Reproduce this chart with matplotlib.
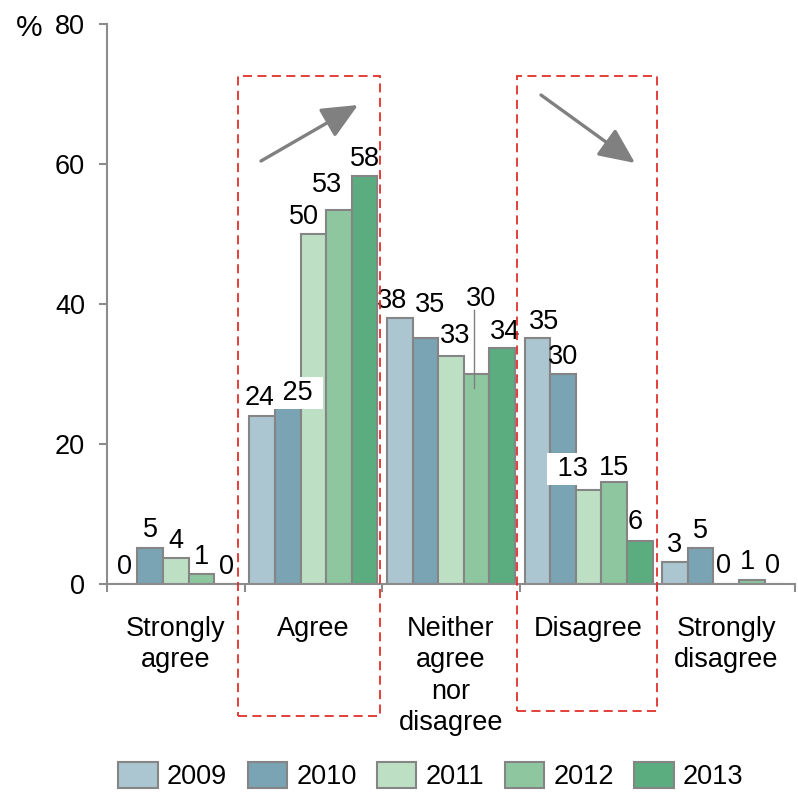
import matplotlib
matplotlib.use("Agg")
import matplotlib.pyplot as plt
from matplotlib.patches import Patch, Rectangle
import numpy as np

plt.rcParams['font.family'] = ['Liberation Sans', 'DejaVu Sans']

categories = ["Strongly\nagree", "Agree", "Neither\nagree\nnor\ndisagree", "Disagree", "Strongly\ndisagree"]
years = ["2009", "2010", "2011", "2012", "2013"]
values = {
    "2009": [0.0, 24.0, 38.0, 35.2, 3.1],
    "2010": [5.2, 25.1, 35.2, 30.0, 5.1],
    "2011": [3.7, 50.0, 32.6, 13.4, 0.0],
    "2012": [1.4, 53.4, 30.0, 14.6, 0.6],
    "2013": [0.0, 58.3, 33.7, 6.2, 0.0],
}
yticks = [0, 20, 40, 60, 80]

colors = ["#ABC6D0", "#7AA3B4", "#BDE0C5", "#8EC6A0", "#5BAD80"]
edge = "#858585"
FS = 19.5
PX = 0.72  # points per pixel at 100 dpi
HALF_DIGIT = 0.716 * FS / PX / 2  # half digit height in pixels

fig = plt.figure(figsize=(7.98, 8.0), dpi=100)
ax = fig.add_axes([107 / 798, 1 - 584 / 800, 688 / 798, 560 / 800])

x = np.arange(len(categories))
w = 0.186

# label nudges (pixels): (dx, height of label centre above bar top)
nudge = {
    (1, 0): (-3, 21), (1, 1): (10, 18), (1, 2): (-9, 20), (1, 3): (-12, 28),
    (2, 0): (-8, 20), (2, 1): (5, 35), (2, 2): (4, 22), (2, 3): (4, 78), (2, 4): (3, 19),
    (3, 0): (7, 18), (3, 2): (-16, 24), (3, 3): (0, 16), (3, 4): (-5, 21),
    (4, 2): (-3, 21), (4, 3): (-4, 20), (4, 4): (-5, 21),
}
boxed = {(1, 1), (3, 2)}
leader = {(2, 3)}

for j, (yr, col) in enumerate(zip(years, colors)):
    vals = values[yr]
    xs = x + (j - 2) * w
    ax.bar(xs, vals, width=w, color=col, edgecolor=edge, linewidth=1.5, zorder=2)
    for i, v in enumerate(vals):
        dx, dy = nudge.get((i, j), (0, 20))
        txt = f"{v:.0f}"
        kw = {}
        if (i, j) in boxed:
            txt = f" {txt} "
            kw["bbox"] = dict(boxstyle="square,pad=0.1", facecolor="white", edgecolor="none")
        if (i, j) in leader:
            ax.plot([xs[i] - 0.02, xs[i] - 0.02], [v - 2, v + 9.2], color="#7f7f7f", lw=1.0, zorder=3)
        ax.annotate(txt, xy=(xs[i], v), xytext=(dx * PX, (dy - HALF_DIGIT) * PX),
                    textcoords="offset points", ha="center", va="baseline",
                    fontsize=FS, color="black", zorder=4, **kw)

ax.set_xlim(-0.5, 4.5)
ax.set_ylim(0, 80)
for s in ["top", "right"]:
    ax.spines[s].set_visible(False)
for s in ["left", "bottom"]:
    ax.spines[s].set_color("#8c8c8c")
    ax.spines[s].set_linewidth(1.5)

ax.set_yticks(yticks)
ax.set_yticklabels([str(t) for t in yticks], fontsize=FS)
ax.tick_params(axis="y", direction="out", length=5.8, width=1.5, color="#8c8c8c", pad=10)

ax.set_xticks(np.arange(-0.5, 5.0, 1.0))
ax.set_xticklabels([])
ax.tick_params(axis="x", which="major", direction="out", length=5.8, width=1.5, color="#8c8c8c")
ax.set_xticks(x, minor=True)
ax.set_xticklabels(categories, minor=True, fontsize=FS, linespacing=1.27)
ax.tick_params(axis="x", which="minor", length=0, pad=23)

fig.text(29 / 798, 1 - 28 / 800, "%", fontsize=FS + 2, ha="center", va="center")

# highlight frames and trend arrows
def px2data(px, py):
    return (px - 107) / 137.6 - 0.5, (584 - py) / 7.0

for (l, t, r, b) in [(238, 76, 380, 716), (517, 76, 657, 711)]:
    x0, y1 = px2data(l, t)
    x1, y0 = px2data(r, b)
    ax.add_patch(Rectangle((x0, y0), x1 - x0, y1 - y0, fill=False, edgecolor="#E0302A",
                           linestyle=(0, (5, 3)), linewidth=1.3, clip_on=False, zorder=6))

for (sx, sy, ex, ey) in [(261, 161, 358, 105), (541, 95, 635, 163)]:
    ax.annotate("", xy=px2data(ex, ey), xytext=px2data(sx, sy),
                arrowprops=dict(arrowstyle="-|>,head_length=1.1,head_width=0.5", color="#808080",
                                lw=2.4, mutation_scale=20, shrinkA=0, shrinkB=0), zorder=5)

handles = [Patch(facecolor=c, edgecolor=edge, linewidth=1.5, label=y) for c, y in zip(colors, years)]
fig.legend(handles=handles, loc="center", bbox_to_anchor=(431 / 798, 1 - 776 / 800), ncol=5,
           frameon=False, fontsize=FS, handlelength=1.45, handleheight=1.1,
           handletextpad=0.35, columnspacing=0.75)

fig.savefig("out.png", dpi=100)
